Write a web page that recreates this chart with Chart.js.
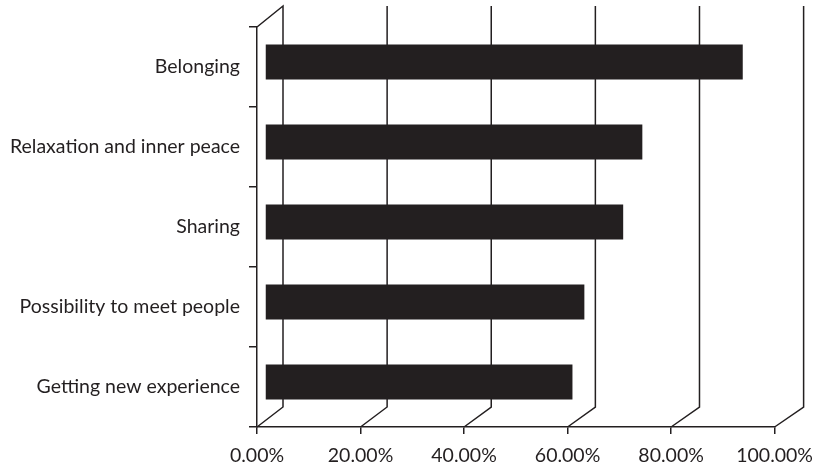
<!DOCTYPE html>
<html>
<head>
<meta charset="utf-8">
<script src="https://cdn.jsdelivr.net/npm/chart.js@4.4.1/dist/chart.umd.min.js"></script>
<style>
  html, body { margin: 0; padding: 0; background: #ffffff; }
  canvas { display: block; }
</style>
</head>
<body>
<canvas id="motivesChart" width="823" height="466"></canvas>
<script>
// --- data ---
const categories = [
    'Belonging',
    'Relaxation and inner peace',
    'Sharing',
    'Possibility to meet people',
    'Getting new experience'
];
const shares = [0.923, 0.729, 0.692, 0.617, 0.594];
const tickValues = [0, 0.2, 0.4, 0.6, 0.8, 1];

const INK = '#231f20';
const FONT = "Lato, 'Open Sans', sans-serif";

// depth of the fake 3D box (back wall offset) and of the bar row
const DEPTH_X = 26;
const DEPTH_Y = -20;
const BAR_SHIFT_X = 8;
const BAR_SHIFT_Y = -5;

// draws the back wall lines and pushes the bars a little "into" the box
const depthPlugin = {
    id: 'depth',
    beforeDatasetsDraw(chart) {
        const { ctx, chartArea, scales } = chart;
        const x = scales.x;
        ctx.save();
        ctx.strokeStyle = INK;
        ctx.lineWidth = 1.5;
        x.ticks.forEach((t, i) => {
            const px = x.getPixelForValue(t.value);
            const bx = px + DEPTH_X + 3 * t.value;
            ctx.beginPath();
            ctx.moveTo(px, chartArea.bottom);
            ctx.lineTo(bx, chartArea.bottom + DEPTH_Y);
            ctx.lineTo(bx, chartArea.top + DEPTH_Y - 1);
            if (i === 0) ctx.lineTo(px, chartArea.top);
            ctx.stroke();
        });
        ctx.restore();

        ctx.save();
        ctx.translate(BAR_SHIFT_X, BAR_SHIFT_Y);
    },
    afterDatasetsDraw(chart) {
        chart.ctx.restore();
    }
};

new Chart(document.getElementById('motivesChart'), {
    type: 'bar',
    data: {
        labels: categories,
        datasets: [{
            data: shares,
            backgroundColor: INK,
            borderWidth: 0,
            barPercentage: 0.44,
            categoryPercentage: 1
        }]
    },
    options: {
        indexAxis: 'y',
        responsive: false,
        animation: false,
        layout: { padding: { top: 27, right: 46, bottom: 0, left: 0 } },
        plugins: {
            legend: { display: false },
            tooltip: { enabled: false }
        },
        scales: {
            x: {
                min: 0,
                max: 1,
                afterBuildTicks: (scale) => {
                    scale.ticks = tickValues.map(v => ({ value: v }));
                },
                afterFit: (scale) => { scale.height = 39; },
                grid: {
                    drawOnChartArea: false,
                    tickLength: 7,
                    color: INK,
                    lineWidth: 1.5
                },
                border: { display: true, color: INK, width: 1.5 },
                ticks: {
                    padding: 10,
                    color: INK,
                    font: { family: FONT, size: 19.5 },
                    maxRotation: 0,
                    callback: (v) => (v * 100).toFixed(2) + '%'
                }
            },
            y: {
                afterFit: (scale) => { scale.width = 257; },
                grid: {
                    drawOnChartArea: false,
                    tickLength: 8,
                    color: INK,
                    lineWidth: 1.5
                },
                border: { display: true, color: INK, width: 1.5 },
                ticks: {
                    padding: 9,
                    color: INK,
                    font: { family: FONT, size: 19.5 }
                }
            }
        }
    },
    plugins: [depthPlugin]
});
</script>
</body>
</html>
